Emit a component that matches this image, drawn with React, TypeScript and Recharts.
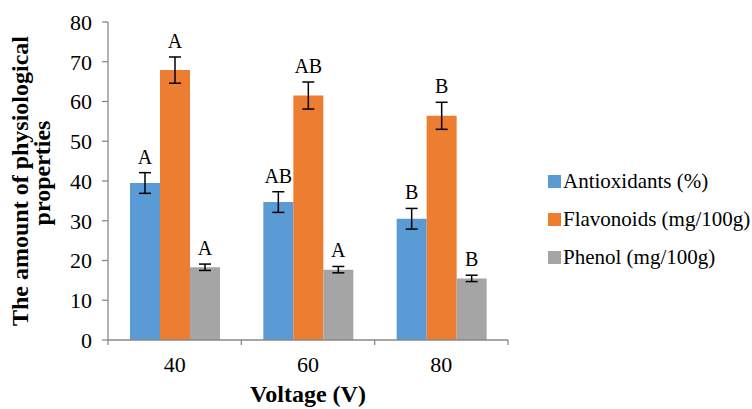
import { BarChart, Bar, XAxis, YAxis, ErrorBar, LabelList, Label } from "recharts";

const categories = ["40", "60", "80"];
const antioxidants = [39.5, 34.7, 30.5];
const antioxidantsErr = [2.6, 2.6, 2.6];
const antioxidantsLetters = ["A", "AB", "B"];
const flavonoids = [67.9, 61.5, 56.4];
const flavonoidsErr = [3.3, 3.4, 3.4];
const flavonoidsLetters = ["A", "AB", "B"];
const phenol = [18.3, 17.7, 15.5];
const phenolErr = [0.8, 0.8, 0.8];
const phenolLetters = ["A", "A", "B"];
const yTicks = [0, 10, 20, 30, 40, 50, 60, 70, 80];

const seriesNames = ["Antioxidants (%)", "Flavonoids (mg/100g)", "Phenol (mg/100g)"];
const colors = ["#5B9BD5", "#ED7D31", "#A5A5A5"];

const FONT = "'Liberation Serif', 'Times New Roman', serif";

const data = categories.map((c, i) => ({
  voltage: c,
  antioxidants: antioxidants[i],
  antioxidantsErr: antioxidantsErr[i],
  flavonoids: flavonoids[i],
  flavonoidsErr: flavonoidsErr[i],
  phenol: phenol[i],
  phenolErr: phenolErr[i],
}));

// letter above the error bar; pixel offset derived from bar height / value
function letterLabel(letters: string[], errs: number[]) {
  return (props: any) => {
    const { x, y, width, height, value, index } = props;
    if (index == null || !value) return null;
    const pxPerUnit = Number(height) / Number(value);
    const top = Number(y) - errs[index] * pxPerUnit;
    return (
      <text x={Number(x) + Number(width) / 2} y={top - 9} textAnchor="middle" fontFamily={FONT} fontSize={20} fill="#000">
        {letters[index]}
      </text>
    );
  };
}

function XTick(props: any) {
  const { x, y, payload, index } = props;
  const off = payload.offset ?? 0;
  return (
    <g>
      <line x1={x - off} y1={y - 8} x2={x - off} y2={y - 3} stroke="#898989" strokeWidth={1.3} />
      {index === categories.length - 1 && (
        <line x1={x + off} y1={y - 8} x2={x + off} y2={y - 3} stroke="#898989" strokeWidth={1.3} />
      )}
      <text x={x} y={y + 24} textAnchor="middle" fontFamily={FONT} fontSize={22} fill="#000">
        {payload.value}
      </text>
    </g>
  );
}

function YTitle(props: any) {
  const { viewBox } = props;
  const cy = viewBox.y + viewBox.height / 2;
  const cy2 = cy - 8;
  return (
    <g fontFamily={FONT} fontWeight="bold" fontSize={24} fill="#000">
      <text x={28} y={cy} transform={`rotate(-90 28 ${cy})`} textAnchor="middle">
        The amount of physiological
      </text>
      <text x={50} y={cy2} transform={`rotate(-90 50 ${cy2})`} textAnchor="middle">
        properties
      </text>
    </g>
  );
}

function LegendBox() {
  return (
    <div style={{ position: "absolute", left: 548, top: 162, fontFamily: FONT, fontSize: 21, color: "#000" }}>
      {seriesNames.map((n, i) => (
        <div key={n} style={{ display: "flex", alignItems: "center", height: 38, whiteSpace: "nowrap" }}>
          <span style={{ width: 13, height: 13, background: colors[i], marginRight: 2, display: "inline-block" }} />
          <span>{n}</span>
        </div>
      ))}
    </div>
  );
}

export default function App() {
  return (
    <div style={{ position: "fixed", left: 0, top: 0, width: 752, height: 409, background: "#fff" }}>
      <BarChart
        width={752}
        height={409}
        data={data}
        margin={{ top: 22, right: 244, left: 60, bottom: 0 }}
        barCategoryGap="16.5%"
        barGap={0}
      >
        <XAxis
          dataKey="voltage"
          axisLine={{ stroke: "#898989", strokeWidth: 1.3 }}
          tickLine={false}
          tick={<XTick />}
          height={69}
        >
          <Label
            value="Voltage (V)"
            position="insideBottom"
            offset={7}
            style={{ fontFamily: FONT, fontWeight: "bold", fontSize: 24, fill: "#000" }}
          />
        </XAxis>
        <YAxis
          width={48}
          domain={[0, 80]}
          ticks={yTicks}
          interval={0}
          axisLine={{ stroke: "#898989", strokeWidth: 1.3 }}
          tickLine={{ stroke: "#898989", strokeWidth: 1.3 }}
          tickSize={6}
          tickMargin={10}
          tick={{ fontFamily: FONT, fontSize: 22, fill: "#000" }}
        >
          <Label content={<YTitle />} />
        </YAxis>
        <Bar dataKey="antioxidants" name={seriesNames[0]} fill={colors[0]} isAnimationActive={false}>
          <ErrorBar dataKey="antioxidantsErr" width={6} stroke="#000" strokeWidth={1.5} />
          <LabelList dataKey="antioxidants" content={letterLabel(antioxidantsLetters, antioxidantsErr)} />
        </Bar>
        <Bar dataKey="flavonoids" name={seriesNames[1]} fill={colors[1]} isAnimationActive={false}>
          <ErrorBar dataKey="flavonoidsErr" width={6} stroke="#000" strokeWidth={1.5} />
          <LabelList dataKey="flavonoids" content={letterLabel(flavonoidsLetters, flavonoidsErr)} />
        </Bar>
        <Bar dataKey="phenol" name={seriesNames[2]} fill={colors[2]} isAnimationActive={false}>
          <ErrorBar dataKey="phenolErr" width={6} stroke="#000" strokeWidth={1.5} />
          <LabelList dataKey="phenol" content={letterLabel(phenolLetters, phenolErr)} />
        </Bar>
      </BarChart>
      <LegendBox />
    </div>
  );
}
